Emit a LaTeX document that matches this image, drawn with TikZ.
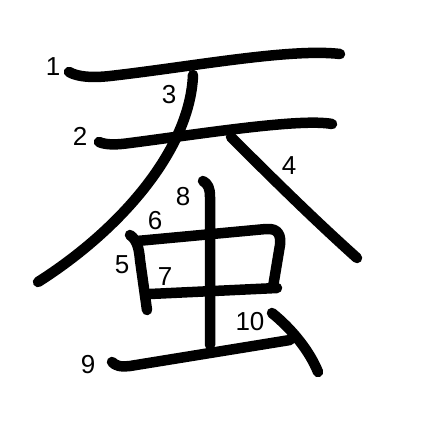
\documentclass[tikz,border=0pt]{standalone}
\usepackage{fontspec}
\setmainfont{Liberation Sans}
\usepackage{tikz}

\begin{document}
\begin{tikzpicture}[x=1pt, y=-1pt,
    trait/.style={line width=10.5pt, line cap=round, line join=round},
    num/.style={inner sep=0pt, font=\fontsize{26}{26}\selectfont}]
    % Cadre de l'image
    \useasboundingbox (0,0) rectangle (447,447);
    \fill[white] (0,0) rectangle (447,447);

    % Traits du caractere
    \draw[trait] (69,72) .. controls (78,77) and (92,78) .. (110,76)
        .. controls (190,67) and (290,48) .. (340,54);
    \draw[trait] (99,142) .. controls (106,145) and (116,145) .. (130,143)
        .. controls (200,134) and (300,118) .. (332,124);
    \draw[trait] (193,75) .. controls (190,150) and (120,230) .. (38,282);
    \draw[trait] (231,137) .. controls (280,186) and (318,223) .. (357,258);
    \draw[trait] (130,235) .. controls (137,240) and (139,248) .. (140,260)
        -- (147,310);
    \draw[trait] (137,241) -- (266,229) .. controls (279,228) and (281,236) .. (280,245)
        -- (273,287);
    \draw[trait] (150,294) -- (277,288);
    \draw[trait] (203,181) .. controls (208,184) and (210,188) .. (210,197) -- (210,345);
    \draw[trait] (112,362) .. controls (116,366) and (120,367) .. (130,366)
        -- (290,340);
    \draw[trait] (272,313) .. controls (293,330) and (310,352) .. (318,372);

    % Numeros des traits
    \foreach \n/\x/\y in {1/53/67, 2/80/136, 3/169/95, 4/289/166, 5/122/265,
                          6/155/221, 7/165/277, 8/183/197, 9/88/365, 10/250/322} {
        \node[num] (n\n) at (\x,\y) {\n};
    }
\end{tikzpicture}
\end{document}
